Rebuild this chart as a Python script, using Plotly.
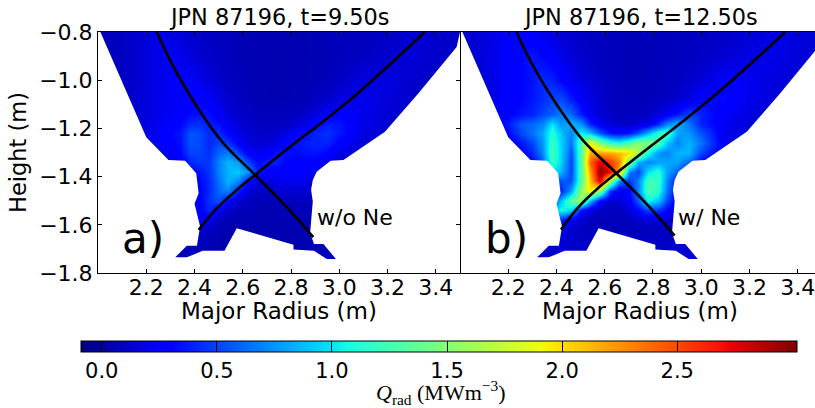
import plotly.graph_objects as go

# Grid (m)
major_radius = [2.00,2.10,2.20,2.25,2.30,2.34,2.38,2.42,2.46,2.50,2.54,2.58,2.62,2.66,2.70,2.74,2.78,2.82,2.86,2.90,2.95,3.00,3.10,3.20,3.30,3.40,3.50]
height = [-0.80,-0.90,-1.00,-1.08,-1.14,-1.18,-1.22,-1.26,-1.30,-1.34,-1.38,-1.42,-1.46,-1.50,-1.54,-1.58,-1.62,-1.68,-1.74,-1.80]

# Q_rad estimates, rows follow `height`, columns follow `major_radius`
q_rad_a = [
[.06,.09,.15,.20,.16,.14,.12,.10,.09,.08,.07,.06,.05,.05,.05,.05,.05,.05,.05,.06,.06,.07,.08,.10,.14,.12,.10],
[.06,.09,.15,.20,.24,.20,.16,.13,.11,.09,.07,.06,.05,.05,.04,.04,.04,.05,.05,.05,.06,.07,.09,.12,.15,.12,.10],
[.06,.09,.15,.20,.22,.26,.24,.20,.15,.12,.09,.07,.06,.05,.05,.04,.04,.05,.05,.06,.07,.09,.17,.17,.12,.10,.10],
[.06,.09,.15,.20,.22,.24,.28,.30,.24,.17,.12,.09,.07,.06,.05,.05,.05,.06,.06,.08,.11,.17,.21,.15,.12,.10,.10],
[.07,.10,.15,.20,.23,.26,.32,.34,.33,.24,.16,.12,.09,.07,.07,.07,.07,.09,.12,.17,.25,.28,.19,.14,.11,.10,.10],
[.07,.11,.17,.22,.26,.30,.42,.44,.38,.33,.21,.15,.11,.09,.08,.08,.10,.14,.20,.30,.38,.36,.19,.13,.11,.10,.10],
[.07,.11,.18,.24,.30,.36,.55,.52,.42,.42,.29,.19,.14,.11,.10,.12,.17,.28,.34,.40,.44,.36,.17,.12,.10,.10,.10],
[.07,.10,.16,.22,.28,.34,.55,.52,.42,.50,.45,.27,.17,.14,.14,.19,.30,.34,.38,.40,.40,.28,.14,.11,.10,.10,.10],
[.07,.09,.14,.18,.24,.30,.50,.50,.44,.62,.68,.50,.27,.21,.24,.36,.34,.32,.34,.36,.30,.19,.11,.10,.10,.10,.10],
[.07,.08,.12,.15,.18,.24,.40,.46,.46,.70,.85,.78,.50,.32,.38,.38,.30,.28,.28,.28,.19,.14,.10,.10,.10,.10,.10],
[.07,.07,.10,.13,.16,.20,.30,.34,.45,.70,.85,.92,.75,.40,.28,.25,.26,.25,.25,.21,.15,.11,.09,.09,.09,.09,.09],
[.07,.07,.08,.12,.15,.20,.25,.30,.42,.65,.85,.72,.36,.17,.17,.19,.21,.21,.19,.15,.11,.09,.09,.09,.09,.09,.09],
[.07,.07,.08,.09,.12,.15,.20,.28,.42,.62,.70,.38,.14,.10,.10,.12,.13,.14,.14,.11,.09,.09,.09,.09,.09,.09,.09],
[.07,.07,.08,.09,.10,.12,.15,.25,.45,.55,.28,.11,.08,.06,.06,.07,.08,.08,.08,.08,.08,.08,.08,.08,.08,.08,.08],
[.07,.07,.08,.09,.10,.12,.15,.25,.42,.22,.10,.07,.06,.05,.05,.05,.06,.06,.06,.06,.07,.07,.07,.07,.07,.07,.07],
[.07,.07,.07,.07,.08,.08,.10,.25,.20,.08,.06,.05,.04,.04,.04,.04,.05,.05,.05,.06,.07,.07,.07,.07,.07,.07,.07],
[.07,.07,.07,.07,.07,.07,.08,.15,.08,.05,.04,.04,.04,.04,.04,.04,.04,.04,.05,.06,.07,.07,.07,.07,.07,.07,.07],
[.07,.07,.07,.07,.07,.07,.07,.07,.06,.05,.04,.04,.04,.04,.04,.04,.04,.04,.05,.06,.07,.07,.07,.07,.07,.07,.07],
[.07,.07,.07,.07,.07,.07,.07,.07,.06,.05,.05,.05,.05,.05,.05,.05,.05,.05,.06,.06,.07,.07,.07,.07,.07,.07,.07],
[.07,.07,.07,.07,.07,.07,.07,.07,.06,.05,.05,.05,.05,.05,.05,.05,.05,.05,.06,.06,.07,.07,.07,.07,.07,.07,.07],
]

q_rad_b = [
[.10,.16,.24,.28,.24,.20,.16,.14,.12,.10,.09,.08,.07,.07,.07,.07,.07,.07,.07,.08,.08,.09,.11,.14,.18,.16,.14],
[.10,.16,.26,.30,.36,.30,.25,.19,.15,.12,.10,.08,.07,.07,.06,.06,.06,.07,.07,.08,.09,.10,.13,.18,.20,.15,.14],
[.10,.16,.26,.30,.34,.42,.40,.30,.22,.16,.13,.10,.08,.07,.06,.06,.06,.07,.08,.09,.11,.14,.26,.22,.16,.14,.14],
[.10,.16,.26,.30,.36,.42,.50,.52,.38,.25,.17,.12,.09,.07,.07,.07,.07,.08,.10,.13,.18,.30,.32,.20,.15,.14,.14],
[.10,.16,.28,.34,.40,.50,.58,.68,.62,.38,.22,.14,.10,.08,.08,.08,.10,.15,.22,.35,.50,.40,.24,.17,.14,.14,.14],
[.10,.18,.36,.55,.62,.70,1.00,.75,.85,.75,.40,.22,.15,.12,.11,.13,.20,.40,.70,.85,.65,.40,.22,.15,.14,.14,.14],
[.10,.16,.30,.50,.65,.80,1.15,.90,.70,1.05,.90,.55,.35,.30,.35,.55,.85,1.15,1.25,.80,.75,.55,.20,.15,.14,.14,.14],
[.10,.14,.24,.34,.50,.75,1.20,.95,.65,1.30,1.90,1.50,1.20,1.10,1.30,1.50,1.50,1.30,.90,.70,.85,.65,.20,.14,.14,.14,.14],
[.10,.12,.20,.26,.40,.70,1.25,.95,.55,1.30,2.20,2.20,2.20,2.10,2.00,1.65,1.10,.75,.70,.85,.85,.50,.18,.14,.14,.14,.14],
[.10,.10,.16,.20,.30,.55,1.20,.95,.50,1.30,2.40,2.80,2.55,2.30,1.50,.85,.70,.80,.80,.80,.60,.30,.14,.12,.12,.12,.12],
[.10,.10,.14,.16,.22,.40,1.00,.85,.50,1.30,2.20,3.00,2.70,2.20,.70,.50,1.00,1.15,.80,.60,.35,.18,.12,.12,.12,.12,.12],
[.10,.10,.12,.14,.18,.25,.45,.55,.55,1.30,2.10,2.80,1.60,.70,.45,.70,1.25,1.20,.70,.35,.20,.14,.12,.10,.10,.10,.10],
[.10,.10,.10,.12,.15,.20,.30,.40,.80,1.55,1.95,1.50,.45,.20,.30,.70,1.30,1.15,.65,.30,.15,.12,.10,.10,.10,.10,.10],
[.10,.10,.10,.10,.12,.25,.50,.90,1.35,1.60,.85,.25,.12,.14,.25,.55,1.05,.90,.50,.22,.12,.10,.10,.10,.10,.10,.10],
[.10,.10,.10,.10,.15,.40,.80,1.10,.95,.35,.15,.10,.08,.09,.15,.30,.50,.45,.30,.15,.10,.10,.10,.10,.10,.10,.10],
[.10,.10,.10,.10,.12,.25,.50,.40,.20,.12,.08,.07,.07,.07,.08,.10,.14,.14,.12,.10,.10,.10,.10,.10,.10,.10,.10],
[.10,.10,.10,.10,.10,.12,.20,.20,.12,.09,.08,.07,.07,.07,.07,.07,.08,.08,.08,.09,.10,.10,.10,.10,.10,.10,.10],
[.10,.10,.10,.10,.10,.10,.12,.14,.12,.12,.10,.09,.09,.09,.10,.10,.10,.10,.10,.12,.12,.10,.10,.10,.10,.10,.10],
[.10,.10,.10,.10,.10,.10,.12,.14,.12,.12,.10,.10,.10,.10,.10,.10,.10,.10,.12,.14,.14,.10,.10,.10,.10,.10,.10],
[.10,.10,.10,.10,.10,.10,.12,.14,.12,.12,.10,.10,.10,.10,.10,.10,.10,.10,.12,.14,.14,.10,.10,.10,.10,.10,.10],
]

# Camera field-of-view outline (m); everything outside is blank
fov_r = [2.01,2.20,2.292,2.361,2.407,2.417,2.40,2.423,2.41,2.368,2.32,2.368,2.434,2.524,2.575,2.81,2.81,2.895,2.948,2.986,2.934,2.895,2.879,2.89,2.883,2.89,2.906,2.964,3.017,3.189,3.327,3.486,3.50]
fov_z = [-0.80,-1.237,-1.331,-1.334,-1.386,-1.469,-1.513,-1.607,-1.687,-1.687,-1.735,-1.735,-1.708,-1.708,-1.614,-1.683,-1.703,-1.708,-1.742,-1.742,-1.68,-1.68,-1.634,-1.503,-1.455,-1.414,-1.38,-1.334,-1.331,-1.214,-1.055,-0.862,-0.80]
frame_r = [3.6,3.6,1.9,1.9]
frame_z = [-0.8,-1.9,-1.9,-0.8]

# Separatrix legs
sep1_a_r = [2.244,2.313,2.41,2.52,2.651,2.782,2.892]
sep1_a_z = [-0.80,-0.945,-1.11,-1.262,-1.393,-1.527,-1.651]
sep2_a_r = [2.417,2.493,2.575,2.651,2.796,2.934,3.072,3.21,3.354]
sep2_a_z = [-1.621,-1.531,-1.455,-1.393,-1.276,-1.170,-1.058,-0.934,-0.80]
sep1_b_r = [2.234,2.30,2.40,2.51,2.648,2.78,2.89]
sep1_b_z = [-0.80,-0.935,-1.10,-1.25,-1.386,-1.52,-1.645]
sep2_b_r = [2.419,2.49,2.572,2.648,2.793,2.93,3.066,3.205,3.348]
sep2_b_z = [-1.62,-1.528,-1.448,-1.386,-1.272,-1.166,-1.054,-0.932,-0.80]

y_ticks = [-0.8,-1.0,-1.2,-1.4,-1.6,-1.8]
x_ticks = [2.2,2.4,2.6,2.8,3.0,3.2,3.4]
cbar_ticks = [0.0,0.5,1.0,1.5,2.0,2.5]
titles = ["JPN 87196, t=9.50s","JPN 87196, t=12.50s"]
x_label = "Major Radius (m)"

jet = [[0,"rgb(0,0,127)"],[.11,"rgb(0,0,255)"],[.125,"rgb(0,0,255)"],[.34,"rgb(0,219,255)"],[.35,"rgb(0,229,247)"],
       [.375,"rgb(20,255,226)"],[.64,"rgb(237,255,10)"],[.65,"rgb(247,245,0)"],[.66,"rgb(255,234,0)"],
       [.89,"rgb(255,18,0)"],[.91,"rgb(232,0,0)"],[1,"rgb(127,0,0)"]]

W, H = 815, 408
FONT = "DejaVu Sans"

fig = go.Figure()
for q, xa, ya, s1r, s1z, s2r, s2z in [
    (q_rad_a,"x","y",sep1_a_r,sep1_a_z,sep2_a_r,sep2_a_z),
    (q_rad_b,"x2","y2",sep1_b_r,sep1_b_z,sep2_b_r,sep2_b_z)]:
    fig.add_trace(go.Heatmap(x=major_radius,y=height[::-1],z=q[::-1],coloraxis="coloraxis",
                             zsmooth="best",xaxis=xa,yaxis=ya,hoverinfo="skip"))
    fig.add_trace(go.Scatter(x=fov_r+frame_r+fov_r[:1],y=fov_z+frame_z+fov_z[:1],mode="lines",
                             fill="toself",fillcolor="white",line=dict(width=0,color="white"),
                             xaxis=xa,yaxis=ya,showlegend=False,hoverinfo="skip"))
    for r,z in ((s1r,s1z),(s2r,s2z)):
        fig.add_trace(go.Scatter(x=r,y=z,mode="lines",line=dict(color="black",width=2.6,shape="spline"),
                                 xaxis=xa,yaxis=ya,showlegend=False,hoverinfo="skip"))

def xax(dom,rng):
    return dict(domain=dom,range=rng,tickvals=x_ticks,tickformat=".1f",ticks="inside",ticklen=4,
                tickcolor="black",showline=True,linecolor="black",linewidth=1,mirror="allticks",
                showgrid=False,zeroline=False,ticklabelstandoff=-5,ticklabeloverflow="allow",
                tickfont=dict(size=22,family=FONT,color="black"))
def yax(labels):
    return dict(domain=[1-273/H,1-32/H],range=[-1.8,-0.8],tickvals=y_ticks,ticks="inside",ticklen=4,
                tickcolor="black",showline=True,linecolor="black",linewidth=1,mirror="allticks",
                showgrid=False,zeroline=False,showticklabels=labels,tickformat=".1f",ticklabeloverflow="allow",
                tickfont=dict(size=22,family=FONT,color="black"))

def text(t,px,py,sz,family=FONT):
    return dict(text=t,xref="paper",yref="paper",x=px/W,y=1-py/H,xanchor="center",yanchor="middle",
                showarrow=False,font=dict(size=sz,family=family,color="black"))

ann = [text(titles[0],279,17,22.4),text(titles[1],640,17,22.4),
       text(x_label,279,311,23),text(x_label,640,311,23),
       text("a)",143,238,42),text("b)",506,238,42),text("w/o Ne",355,217,22),text("w/ Ne",709,217,22),
       text("<i>Q</i><sub>rad</sub> (MWm<sup>−3</sup>)",441,392,22,"Liberation Serif")]

fig.update_layout(
    width=W,height=H,margin=dict(l=0,r=0,t=0,b=0,autoexpand=False),plot_bgcolor="white",paper_bgcolor="white",
    autosize=False,showlegend=False,annotations=ann,
    xaxis=xax([98/W,460/W],[2.0,3.5]),
    xaxis2=xax([460/W,1.0],[2.0,3.472]),
    yaxis=dict(yax(True),title=dict(text="Height (m)",standoff=6,font=dict(size=22.5,family=FONT,color="black"))),
    yaxis2=yax(False),
    coloraxis=dict(cmin=-0.09,cmax=3.02,colorscale=jet,colorbar=dict(
        orientation="h",x=439/W,xanchor="center",y=1-341/H,yanchor="top",
        lenmode="pixels",len=716,thicknessmode="pixels",thickness=11,xpad=0,ypad=0,
        tickvals=cbar_ticks,tickformat=".1f",ticks="inside",ticklen=11,tickcolor="black",tickwidth=1,
        outlinecolor="black",outlinewidth=1,
        tickfont=dict(size=21,family=FONT,color="black"))),
)
fig.write_html("out.html", config=dict(displayModeBar=False),
               post_script="document.body.style.margin='0';document.documentElement.style.overflow='hidden';")
